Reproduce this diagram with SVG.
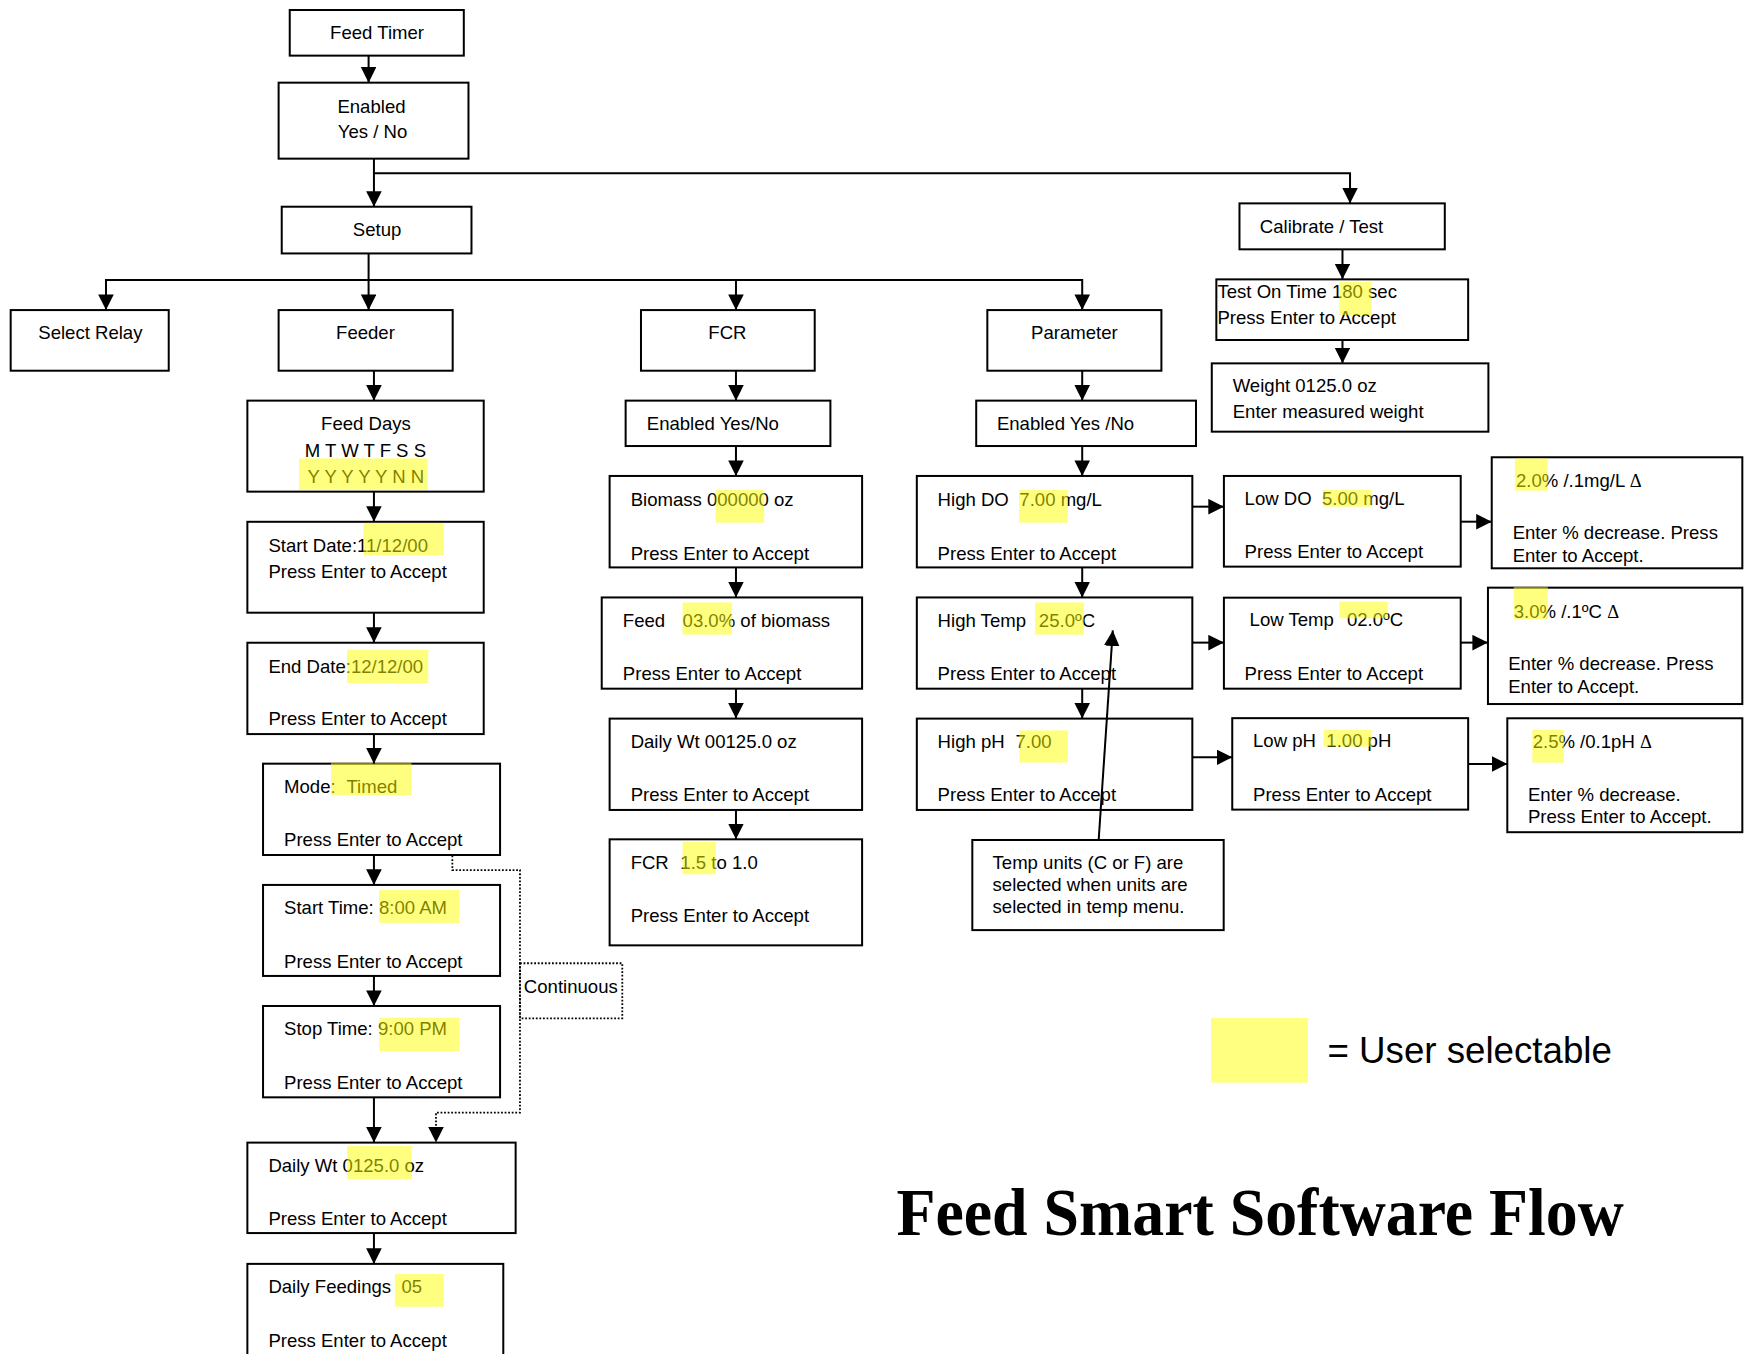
<svg xmlns="http://www.w3.org/2000/svg" width="1744" height="1354" viewBox="0 0 1744 1354">
<defs>
<style>
.b{fill:#fff;stroke:#000;stroke-width:1.8}
.t{font-family:"Liberation Sans",Arial,sans-serif;font-size:16.7px;fill:#000;white-space:pre}
.m{text-anchor:middle}
.h{fill:#ffff00;fill-opacity:0.5}
.c{fill:none;stroke:#000;stroke-width:1.8;marker-end:url(#ah)}
.d{fill:none;stroke:#000;stroke-width:1.6;stroke-dasharray:1.6 1.6}
.g{font-family:"Liberation Serif","Times New Roman",serif}
</style>
<marker id="ah" markerUnits="userSpaceOnUse" markerWidth="15" markerHeight="15" refX="14" refY="7" orient="auto">
<path d="M0,0 L14,7 L0,14 Z" fill="#000"/>
</marker>
</defs>
<rect width="1744" height="1354" fill="#fff"/>
<g transform="scale(1.11224,1.11257)">

<g id="feed-timer">
<rect class="b" x="260.5" y="9" width="156.5" height="41"/>
<text class="t m" x="339" y="35.3">Feed Timer</text>
</g>
<g id="enabled">
<rect class="b" x="250.5" y="74.3" width="170.7" height="68.3"/>
<text class="t m" x="334" y="101.3">Enabled</text>
<text class="t m" x="335" y="123.8">Yes / No</text>
</g>
<g id="setup">
<rect class="b" x="253.3" y="185.8" width="170.6" height="42"/>
<text class="t m" x="339" y="212.2">Setup</text>
</g>
<g id="calibrate">
<rect class="b" x="1114.4" y="182.8" width="184.6" height="41.3"/>
<text class="t" x="1132.7" y="209.7">Calibrate / Test</text>
</g>
<g id="test-on-time">
<rect class="b" x="1093.6" y="251.1" width="226.4" height="54.5"/>
<text class="t" x="1094.6" y="268.1">Test On Time 180 sec</text>
<text class="t" x="1094.6" y="291.2">Press Enter to Accept</text>
<rect class="h" x="1204" y="253.2" width="29.2" height="29.9"/>
</g>
<g id="weight">
<rect class="b" x="1089.5" y="326.6" width="248.7" height="61.4"/>
<text class="t" x="1108.3" y="352">Weight 0125.0 oz</text>
<text class="t" x="1108.3" y="376">Enter measured weight</text>
</g>
<g id="select-relay">
<rect class="b" x="9.6" y="278.7" width="142.1" height="54.5"/>
<text class="t" x="34.4" y="305">Select Relay</text>
</g>
<g id="feeder">
<rect class="b" x="250.5" y="278.7" width="156.5" height="54.5"/>
<text class="t m" x="328.6" y="305">Feeder</text>
</g>
<g id="fcr">
<rect class="b" x="576.3" y="278.7" width="156.2" height="54.5"/>
<text class="t m" x="654" y="305">FCR</text>
</g>
<g id="parameter">
<rect class="b" x="887.7" y="278.7" width="156.5" height="54.5"/>
<text class="t m" x="966" y="305">Parameter</text>
</g>

<g id="feed-days">
<rect class="b" x="222.4" y="360.1" width="212.5" height="81.8"/>
<text class="t m" x="329" y="386.5">Feed Days</text>
<text class="t m" x="328.5" y="410.5">M T W T F S S</text>
<text class="t m" x="329" y="433.8">Y Y Y Y Y N N</text>
<rect class="h" x="268.8" y="412" width="115.7" height="28.4"/>
</g>
<g id="start-date">
<rect class="b" x="222.4" y="469" width="212.5" height="81.7"/>
<text class="t" x="241.3" y="496">Start Date:11/12/00</text>
<text class="t" x="241.3" y="519.8">Press Enter to Accept</text>
<rect class="h" x="326.7" y="470" width="72.2" height="28.9"/>
</g>
<g id="end-date">
<rect class="b" x="222.4" y="577.7" width="212.5" height="82.1"/>
<text class="t" x="241.3" y="604.6">End Date:12/12/00</text>
<text class="t" x="241.3" y="651.7">Press Enter to Accept</text>
<rect class="h" x="312" y="584" width="73" height="30"/>
</g>
<g id="mode">
<rect class="b" x="236.5" y="686.4" width="213.1" height="82.1"/>
<text class="t" x="255.4" y="713">Mode:<tspan x="311.5">Timed</tspan></text>
<text class="t" x="255.4" y="760.4">Press Enter to Accept</text>
<rect class="h" x="297.6" y="685.6" width="72.4" height="29"/>
</g>
<g id="start-time">
<rect class="b" x="236.5" y="795.4" width="213.1" height="81.8"/>
<text class="t" x="255.4" y="821.5">Start Time: 8:00 AM</text>
<text class="t" x="255.4" y="870.3">Press Enter to Accept</text>
<rect class="h" x="340.8" y="800" width="72.2" height="29.5"/>
</g>
<g id="stop-time">
<rect class="b" x="236.5" y="904.2" width="213.1" height="82.1"/>
<text class="t" x="255.4" y="930.3">Stop Time: 9:00 PM</text>
<text class="t" x="255.4" y="979.1">Press Enter to Accept</text>
<rect class="h" x="341" y="914.7" width="72" height="30"/>
</g>
<g id="continuous">
<rect class="d" x="467.5" y="865.8" width="92" height="49.5"/>
<text class="t" x="471" y="892.2">Continuous</text>
</g>
<g id="daily-wt">
<rect class="b" x="222.4" y="1027" width="241.2" height="81.3"/>
<text class="t" x="241.3" y="1053.7">Daily Wt 0125.0 oz</text>
<text class="t" x="241.3" y="1101">Press Enter to Accept</text>
<rect class="h" x="312" y="1030" width="58" height="29.7"/>
</g>
<g id="daily-feedings">
<rect class="b" x="222.4" y="1136" width="230.1" height="90"/>
<text class="t" x="241.3" y="1162.4">Daily Feedings<tspan x="361">05</tspan></text>
<text class="t" x="241.3" y="1210.4">Press Enter to Accept</text>
<rect class="h" x="355" y="1145" width="44" height="29.5"/>
</g>

<g id="fcr-enabled">
<rect class="b" x="562.5" y="360.1" width="184.1" height="40.8"/>
<text class="t" x="581.5" y="386.5">Enabled Yes/No</text>
</g>
<g id="biomass">
<rect class="b" x="548.1" y="427.8" width="227" height="82.2"/>
<text class="t" x="567" y="455">Biomass 000000 oz</text>
<text class="t" x="567" y="503">Press Enter to Accept</text>
<rect class="h" x="643.4" y="440.4" width="43.7" height="29.4"/>
</g>
<g id="feed-pct">
<rect class="b" x="541" y="537" width="234.1" height="82"/>
<text class="t" x="560" y="563.4">Feed<tspan x="613.7">03.0%</tspan> of biomass</text>
<text class="t" x="560" y="611.5">Press Enter to Accept</text>
<rect class="h" x="613.7" y="541.5" width="44.3" height="28.9"/>
</g>
<g id="fcr-daily-wt">
<rect class="b" x="548.1" y="645.9" width="227" height="82.1"/>
<text class="t" x="567" y="671.9">Daily Wt 00125.0 oz</text>
<text class="t" x="567" y="720">Press Enter to Accept</text>
</g>
<g id="fcr-ratio">
<rect class="b" x="548.1" y="754.4" width="227" height="95.3"/>
<text class="t" x="567" y="781">FCR<tspan x="611.7">1.5 to 1.0</tspan></text>
<text class="t" x="567" y="828.7">Press Enter to Accept</text>
<rect class="h" x="613.7" y="756.8" width="30" height="29"/>
</g>

<g id="param-enabled">
<rect class="b" x="877.7" y="360.1" width="197.6" height="40.8"/>
<text class="t" x="896.3" y="386.5">Enabled Yes /No</text>
</g>
<g id="high-do">
<rect class="b" x="824.3" y="427.8" width="247.7" height="82.2"/>
<text class="t" x="843" y="455">High DO<tspan x="916.5">7.00 mg/L</tspan></text>
<text class="t" x="843" y="503">Press Enter to Accept</text>
<rect class="h" x="916.2" y="440.4" width="43.8" height="29.4"/>
</g>
<g id="high-temp">
<rect class="b" x="824.3" y="537" width="247.7" height="82"/>
<text class="t" x="843" y="563.4">High Temp<tspan x="934">25.0ºC</tspan></text>
<text class="t" x="843" y="611.5">Press Enter to Accept</text>
<rect class="h" x="930.6" y="541.5" width="44" height="28.9"/>
</g>
<g id="high-ph">
<rect class="b" x="824.3" y="645.9" width="247.7" height="82.1"/>
<text class="t" x="843" y="672">High pH<tspan x="913">7.00</tspan></text>
<text class="t" x="843" y="720">Press Enter to Accept</text>
<rect class="h" x="916.5" y="656.5" width="43.7" height="28.9"/>
</g>
<g id="temp-note">
<rect class="b" x="874.2" y="755" width="226" height="81"/>
<text class="t" x="892.4" y="781">Temp units (C or F) are</text>
<text class="t" x="892.4" y="801">selected when units are</text>
<text class="t" x="892.4" y="821">selected in temp menu.</text>
</g>

<g id="low-do">
<rect class="b" x="1100.4" y="427.8" width="212.9" height="81.5"/>
<text class="t" x="1119" y="453.9">Low DO<tspan x="1188.6">5.00 mg/L</tspan></text>
<text class="t" x="1119" y="501.8">Press Enter to Accept</text>
<rect class="h" x="1189.5" y="440.4" width="43.7" height="15"/>
</g>
<g id="low-temp">
<rect class="b" x="1100.4" y="537.2" width="212.9" height="81.8"/>
<text class="t" x="1123.5" y="562.7">Low Temp<tspan x="1211">02.0ºC</tspan></text>
<text class="t" x="1119" y="611.2">Press Enter to Accept</text>
<rect class="h" x="1204.3" y="540.8" width="43.5" height="14.9"/>
</g>
<g id="low-ph">
<rect class="b" x="1107.9" y="645.5" width="212.1" height="82.2"/>
<text class="t" x="1126.6" y="671.5">Low pH<tspan x="1192.5">1.00 pH</tspan></text>
<text class="t" x="1126.6" y="719.6">Press Enter to Accept</text>
<rect class="h" x="1190" y="656" width="43" height="15"/>
</g>
<g id="do-decrease">
<rect class="b" x="1341.2" y="411" width="225.3" height="99.8"/>
<text class="t" x="1363" y="437.4">2.0% /.1mg/L <tspan class="g">Δ</tspan></text>
<text class="t" x="1360" y="484.8">Enter % decrease. Press</text>
<text class="t" x="1360" y="504.8">Enter to Accept.</text>
<rect class="h" x="1362" y="412" width="29.6" height="29"/>
</g>
<g id="temp-decrease">
<rect class="b" x="1337.8" y="528.2" width="228.7" height="104.6"/>
<text class="t" x="1361" y="555.8">3.0% /.1ºC <tspan class="g">Δ</tspan></text>
<text class="t" x="1356" y="602.2">Enter % decrease. Press</text>
<text class="t" x="1356" y="622.6">Enter to Accept.</text>
<rect class="h" x="1361" y="527.5" width="30.6" height="29.2"/>
</g>
<g id="ph-decrease">
<rect class="b" x="1355.2" y="645.6" width="211.3" height="102.4"/>
<text class="t" x="1378" y="672.6">2.5% /0.1pH <tspan class="g">Δ</tspan></text>
<text class="t" x="1373.8" y="719.6">Enter % decrease.</text>
<text class="t" x="1373.8" y="739.4">Press Enter to Accept.</text>
<rect class="h" x="1377.7" y="656.1" width="28.5" height="29.4"/>
</g>

<g id="legend">
<rect x="1088.8" y="915" width="87.2" height="58.1" fill="#ffff80"/>
<text x="1193.5" y="955.7" font-family="Liberation Sans, Arial, sans-serif" font-size="33">= User selectable</text>
</g>
<g id="title">
<text x="806" y="1110" font-family="Liberation Serif, Times New Roman, serif" font-weight="bold" font-size="60" textLength="654" lengthAdjust="spacingAndGlyphs">Feed Smart Software Flow</text>
</g>

<g id="connectors">
<path class="c" d="M331.4,50 V74.3"/>
<path class="c" d="M336.2,142.6 V185.8"/>
<path class="c" d="M336.2,155.8 H1213.8 V182.8"/>
<path class="c" d="M331.4,227.8 V278.7"/>
<path class="c" d="M331.4,251.7 H95.3 V278.7"/>
<path class="c" d="M331.4,251.7 H973 V278.7"/>
<path class="c" d="M661.7,251.7 V278.7"/>
<path class="c" d="M336.2,333.2 V360.1"/>
<path class="c" d="M336.2,441.9 V469"/>
<path class="c" d="M336.2,550.7 V577.7"/>
<path class="c" d="M336.2,659.8 V686.4"/>
<path class="c" d="M336.2,768.5 V795.4"/>
<path class="c" d="M336.2,877.2 V904.2"/>
<path class="c" d="M336.2,986.3 V1027"/>
<path class="c" d="M336.2,1108.3 V1136"/>
<path class="d" d="M406.7,769 V782 H467.5 V1000 H392 V1013"/>
<path d="M385,1013 L399,1013 L392,1027 Z" fill="#000"/>
<path class="c" d="M661.7,333.2 V360.1"/>
<path class="c" d="M661.7,400.9 V427.8"/>
<path class="c" d="M661.7,510 V537"/>
<path class="c" d="M661.7,619 V645.9"/>
<path class="c" d="M661.7,728 V754.4"/>
<path class="c" d="M973,333.2 V360.1"/>
<path class="c" d="M973,400.9 V427.8"/>
<path class="c" d="M973,510 V537"/>
<path class="c" d="M973,619 V645.9"/>
<path class="c" d="M1072,455.4 H1100.4"/>
<path class="c" d="M1313.3,468.9 H1341.2"/>
<path class="c" d="M1072,577.6 H1100.4"/>
<path class="c" d="M1313.3,577.6 H1337.8"/>
<path class="c" d="M1072,680.7 H1107.9"/>
<path class="c" d="M1320,686.7 H1355.2"/>
<path class="c" d="M1207,224.1 V251.1"/>
<path class="c" d="M1207,305.6 V326.6"/>
<path class="c" d="M987.8,755 L1000.5,566.6"/>
</g>
</g>
</svg>
